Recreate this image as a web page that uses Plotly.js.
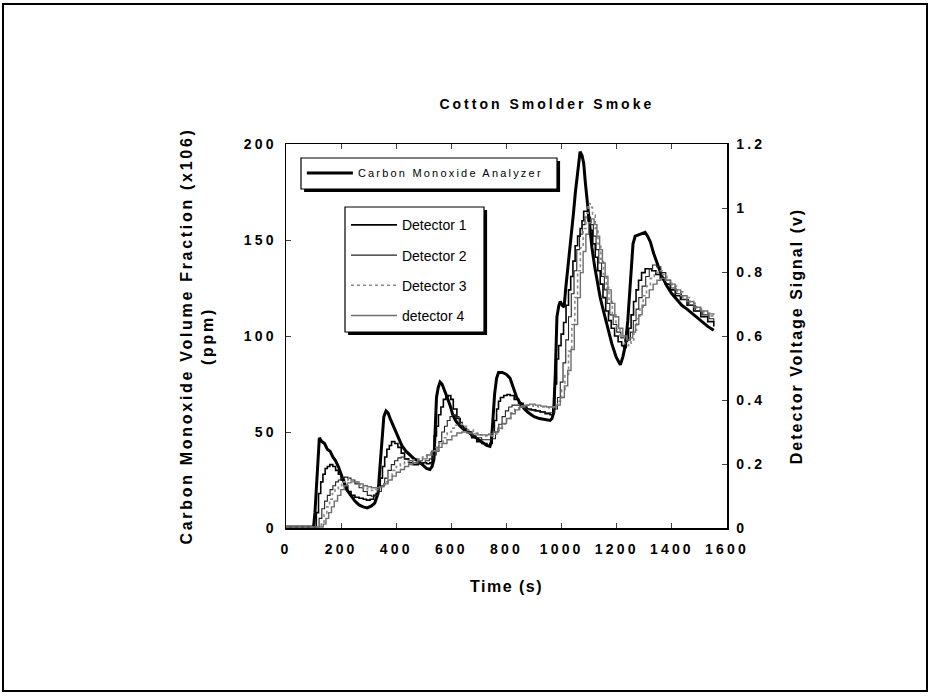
<!DOCTYPE html>
<html>
<head>
<meta charset="utf-8">
<script src="https://cdn.plot.ly/plotly-3.0.1.min.js"></script>
<style>
  html, body { margin: 0; padding: 0; background: #fff; }
  #wrap { position: relative; width: 930px; height: 698px; }
  #chart { width: 930px; height: 698px; }
  #frame { position: absolute; left: 2px; top: 3px; width: 922px; height: 685px;
           border: 2px solid #000; pointer-events: none; }
  .gtitle { letter-spacing: 3px; }
  .xtick text, .ytick text, .y2tick text { letter-spacing: 3.2px; }
  .xtitle { letter-spacing: 1.5px; }
  .ytitle { letter-spacing: 2.7px; }
  .y2title { letter-spacing: 2px; }
  .legendtext { letter-spacing: 2.2px; }
</style>
</head>
<body>
<div id="wrap"><div id="chart"></div><div id="frame"></div></div>
<script>
// ---- Carbon monoxide analyzer (ppm, left axis) ----
const coTime = [0,100,105,112,121,130,140,150,160,170,180,190,200,210,220,235,250,265,280,295,310,322,334,340,348,355,363,370,378,390,400,410,420,435,450,465,480,495,510,522,530,537,541,546,552,559,566,575,585,595,605,615,625,640,655,670,690,710,728,740,745,750,757,764,771,785,800,813,825,837,850,865,880,900,920,940,958,965,971,977,983,990,995,1002,1009,1015,1025,1035,1043,1050,1059,1067,1074,1080,1086,1092,1100,1110,1120,1128,1140,1152,1165,1182,1198,1213,1222,1231,1240,1247,1253,1259,1267,1285,1303,1312,1322,1334,1346,1364,1382,1400,1418,1436,1455,1480,1503,1530,1552];
const coPpm = [0.5,0.5,8,28,47,45,44,41,40,37,35,32,28,24,20,17,14,12,11,10.5,11.5,13,18,30,48,58,61,60,57,53,49,46,43,40,38,36,35,33,31,30.5,32,36,55,68,73,76,75,72,68,64,59,56,54,52,51,49,47,45,43,42.5,45,55,70,78,81,81,80,78,73,68,65,62,60,58,57,56.5,56,57,60,80,110,116,118,116,115,125,138,152,164,175,186,196,194,190,180,172,158,146,136,129,120,113,105,96,89,85,89,95,108,124,138,148,152,153,154,152,149,143,138,131,126,122,119,116,114,111,108,105,103];

// ---- Detector signals (V, right axis) ----
const d1Time = [0,105,110,118,126,134,142,150,159,170,180,190,200,212,224,236,250,265,280,292,305,318,327,335,342,350,358,366,375,383,395,406,418,430,445,461,480,497,510,522,530,538,546,553,562,571,580,589,598,607,620,632,644,656,674,692,710,729,740,748,756,764,771,778,790,802,813,828,844,860,874,890,906,922,940,958,968,975,982,989,998,1007,1016,1025,1033,1041,1049,1058,1067,1074,1080,1088,1096,1104,1113,1122,1131,1140,1150,1160,1170,1180,1192,1205,1218,1225,1234,1243,1252,1261,1270,1279,1290,1303,1315,1327,1342,1358,1376,1394,1412,1431,1455,1479,1505,1530,1552];
const d1Volt = [0.003,0.003,0.048,0.108,0.144,0.168,0.186,0.192,0.198,0.192,0.18,0.168,0.15,0.132,0.114,0.102,0.096,0.093,0.09,0.087,0.09,0.102,0.108,0.132,0.156,0.192,0.222,0.246,0.258,0.27,0.264,0.252,0.234,0.216,0.204,0.198,0.201,0.204,0.201,0.204,0.24,0.288,0.318,0.354,0.378,0.402,0.411,0.414,0.402,0.372,0.342,0.318,0.306,0.3,0.282,0.27,0.264,0.258,0.264,0.3,0.336,0.372,0.396,0.408,0.414,0.417,0.414,0.402,0.39,0.378,0.372,0.369,0.366,0.363,0.357,0.354,0.372,0.45,0.528,0.57,0.606,0.642,0.696,0.744,0.786,0.834,0.882,0.912,0.936,0.96,0.99,0.99,0.96,0.93,0.888,0.846,0.804,0.762,0.72,0.678,0.648,0.624,0.6,0.582,0.57,0.564,0.588,0.624,0.666,0.708,0.744,0.774,0.798,0.81,0.81,0.804,0.792,0.78,0.762,0.744,0.726,0.714,0.696,0.678,0.66,0.645,0.63];

const d2Time = [0,115,120,130,140,150,160,170,180,190,200,212,224,236,250,265,280,295,310,322,334,346,358,370,382,394,406,418,430,445,460,475,490,505,520,535,545,555,565,575,585,595,605,615,628,640,655,670,690,710,728,745,760,772,784,796,808,820,835,850,866,882,900,920,940,960,975,985,995,1005,1015,1025,1035,1045,1055,1065,1075,1085,1095,1105,1115,1125,1135,1145,1155,1165,1175,1187,1200,1215,1230,1240,1250,1260,1270,1280,1292,1305,1318,1330,1345,1360,1378,1396,1415,1435,1460,1485,1510,1535,1552];
const d2Volt = [0.003,0.003,0.03,0.06,0.084,0.102,0.12,0.132,0.144,0.15,0.156,0.159,0.156,0.15,0.138,0.126,0.114,0.102,0.099,0.102,0.114,0.132,0.156,0.18,0.198,0.21,0.219,0.222,0.216,0.21,0.204,0.201,0.204,0.21,0.216,0.228,0.24,0.27,0.3,0.318,0.336,0.348,0.354,0.348,0.33,0.312,0.3,0.288,0.282,0.276,0.276,0.279,0.3,0.324,0.348,0.366,0.378,0.384,0.384,0.378,0.372,0.369,0.366,0.363,0.36,0.36,0.372,0.408,0.456,0.516,0.588,0.66,0.732,0.804,0.87,0.918,0.948,0.972,0.972,0.948,0.912,0.87,0.828,0.786,0.744,0.702,0.666,0.636,0.612,0.594,0.582,0.588,0.612,0.648,0.684,0.72,0.756,0.786,0.81,0.822,0.816,0.798,0.774,0.75,0.732,0.714,0.696,0.678,0.666,0.654,0.648];

const d3Time = [0,120,128,138,148,158,168,178,190,202,214,226,238,250,265,280,295,310,325,340,355,370,385,400,415,430,445,460,478,495,510,525,540,555,570,585,600,615,630,645,660,680,700,720,740,755,770,785,800,815,830,845,860,878,896,915,935,955,970,985,1000,1012,1025,1037,1048,1058,1068,1078,1088,1096,1104,1112,1122,1132,1142,1152,1162,1172,1184,1197,1212,1228,1242,1252,1262,1272,1284,1296,1308,1322,1336,1350,1365,1382,1400,1420,1440,1465,1490,1515,1540,1552];
const d3Volt = [0.003,0.003,0.018,0.042,0.066,0.09,0.108,0.12,0.132,0.144,0.15,0.153,0.15,0.144,0.135,0.126,0.12,0.117,0.12,0.129,0.144,0.162,0.18,0.192,0.201,0.207,0.21,0.213,0.216,0.222,0.228,0.24,0.252,0.264,0.282,0.3,0.312,0.321,0.324,0.318,0.306,0.297,0.291,0.288,0.288,0.294,0.306,0.324,0.342,0.36,0.372,0.381,0.384,0.384,0.381,0.378,0.378,0.375,0.378,0.396,0.432,0.48,0.552,0.636,0.72,0.804,0.876,0.936,0.984,1.014,1.002,0.978,0.936,0.888,0.84,0.792,0.75,0.708,0.666,0.63,0.6,0.576,0.57,0.588,0.618,0.654,0.69,0.726,0.756,0.78,0.798,0.804,0.792,0.774,0.756,0.738,0.72,0.702,0.684,0.672,0.663,0.66];

const d4Time = [0,125,135,145,155,165,175,187,199,211,223,235,250,265,280,295,310,325,340,355,370,385,400,415,430,445,460,478,495,512,530,548,566,584,602,620,638,656,676,696,716,736,752,768,784,800,816,832,848,866,884,904,924,945,965,980,995,1010,1022,1034,1046,1058,1068,1078,1088,1098,1108,1118,1128,1138,1148,1158,1168,1180,1193,1207,1222,1236,1248,1258,1268,1280,1292,1305,1318,1332,1346,1360,1376,1394,1412,1432,1455,1480,1505,1530,1552];
const d4Volt = [0.003,0.003,0.012,0.03,0.048,0.066,0.084,0.102,0.12,0.132,0.141,0.144,0.144,0.138,0.132,0.129,0.126,0.126,0.129,0.138,0.15,0.162,0.174,0.183,0.192,0.198,0.204,0.21,0.216,0.228,0.24,0.252,0.264,0.276,0.288,0.297,0.3,0.297,0.294,0.291,0.291,0.294,0.3,0.312,0.327,0.342,0.357,0.369,0.378,0.384,0.387,0.384,0.381,0.378,0.378,0.384,0.408,0.444,0.492,0.558,0.636,0.72,0.798,0.864,0.918,0.954,0.966,0.948,0.912,0.87,0.828,0.786,0.744,0.702,0.66,0.624,0.6,0.588,0.594,0.612,0.636,0.666,0.696,0.72,0.744,0.762,0.774,0.78,0.774,0.762,0.744,0.726,0.708,0.69,0.678,0.669,0.666];

// ---- Text ----
const chartTitle = 'Cotton Smolder Smoke';
const xTitle = 'Time (s)';
const yTitle = 'Carbon Monoxide Volume Fraction (x106)<br>(ppm)';
const y2Title = 'Detector Voltage Signal (v)';
const seriesNames = ['Carbon Monoxide Analyzer','Detector 1','Detector 2','Detector 3','detector 4'];
const legendTextColors = {'Detector 3': '#a8a8a8', 'detector 4': '#555555'};

const FONT = 'Liberation Sans, Arial, Helvetica, sans-serif';

const traces = [
  {x: coTime, y: coPpm, name: seriesNames[0], type: 'scatter', mode: 'lines',
   line: {color: '#000', width: 3}, legend: 'legend', yaxis: 'y'},
  {x: d1Time, y: d1Volt, name: seriesNames[1], type: 'scatter', mode: 'lines',
   line: {color: '#000', width: 1.6, shape: 'hv'}, legend: 'legend2', legendgroup: 'g1', yaxis: 'y2'},
  {x: d2Time, y: d2Volt, name: seriesNames[2], type: 'scatter', mode: 'lines',
   line: {color: '#222', width: 1.1, shape: 'hv'}, legend: 'legend2', legendgroup: 'g2', yaxis: 'y2'},
  {x: d3Time, y: d3Volt, name: seriesNames[3], type: 'scatter', mode: 'lines',
   line: {color: '#8a8a8a', width: 1.6, shape: 'hv', dash: 'dot'}, legend: 'legend2', legendgroup: 'g3', yaxis: 'y2'},
  {x: d4Time, y: d4Volt, name: seriesNames[4], type: 'scatter', mode: 'lines',
   line: {color: '#6e6e6e', width: 1.4, shape: 'hv'}, legend: 'legend2', legendgroup: 'g4', yaxis: 'y2'}
];

const tickFont = {family: FONT, size: 14, color: '#000', weight: 700};
const titleFont = {family: FONT, size: 16, color: '#000', weight: 700};

function box(x0, x1, y0, y1) {
  return [
    {type: 'rect', xref: 'paper', yref: 'paper', x0: x0 + 0.007, x1: x1 + 0.007, y0: y0 - 0.008, y1: y1 - 0.008,
     fillcolor: '#000', line: {width: 0}, layer: 'above'},
    {type: 'rect', xref: 'paper', yref: 'paper', x0: x0, x1: x1, y0: y0, y1: y1,
     fillcolor: '#fff', line: {color: '#000', width: 1.2}, layer: 'above'}
  ];
}

const layout = {
  width: 930, height: 698,
  margin: {l: 286, r: 203, t: 144, b: 170},
  paper_bgcolor: '#fff', plot_bgcolor: '#fff',
  showlegend: true,
  title: {text: chartTitle, font: {family: FONT, size: 14, color: '#000', weight: 700},
          x: 0.588, xanchor: 'center', xref: 'container', y: 1 - 104/698, yanchor: 'middle', yref: 'container'},
  xaxis: {range: [0, 1600], dtick: 200, tick0: 0, ticks: 'inside', ticklen: 5, tickwidth: 1,
          mirror: 'ticks', showline: true, linecolor: '#000', linewidth: 1.5,
          showgrid: false, zeroline: false, tickfont: tickFont, ticklabelstandoff: 8,
          title: {text: xTitle, font: titleFont, standoff: 24}},
  yaxis: {range: [0, 200], dtick: 50, tick0: 0, ticks: 'inside', ticklen: 5, tickwidth: 1,
          showline: true, linecolor: '#000', linewidth: 1.5,
          showgrid: false, zeroline: false, tickfont: tickFont, ticklabelstandoff: 5,
          title: {text: yTitle, font: titleFont, standoff: 26}},
  yaxis2: {range: [0, 1.2], dtick: 0.2, tick0: 0, ticks: 'inside', ticklen: 5, tickwidth: 1,
           overlaying: 'y', side: 'right', showline: true, linecolor: '#000', linewidth: 1.5,
           showgrid: false, zeroline: false, tickfont: tickFont, ticklabelstandoff: 5,
           title: {text: y2Title, font: titleFont, standoff: 26}},
  legend: {x: 0.036, y: 0.962, xanchor: 'left', yanchor: 'top', bgcolor: 'rgba(0,0,0,0)',
           borderwidth: 0, itemwidth: 46, font: {family: FONT, size: 11, color: '#000'}},
  legend2: {x: 0.136, y: 0.83, xanchor: 'left', yanchor: 'top', bgcolor: 'rgba(0,0,0,0)',
            borderwidth: 0, itemwidth: 46, traceorder: 'grouped', tracegroupgap: 9,
            font: {family: FONT, size: 14, color: '#000'}},
  shapes: [].concat(
    box(0.034, 0.6145, 0.8828, 0.9635),
    box(0.1338, 0.449, 0.5104, 0.8359)
  )
};

Plotly.newPlot('chart', traces, layout, {displayModeBar: false, staticPlot: true}).then(function (gd) {
  gd.querySelectorAll('.legendtext').forEach(function (el) {
    const c = legendTextColors[el.textContent];
    if (c) el.style.fill = c;
  });
});
</script>
</body>
</html>
